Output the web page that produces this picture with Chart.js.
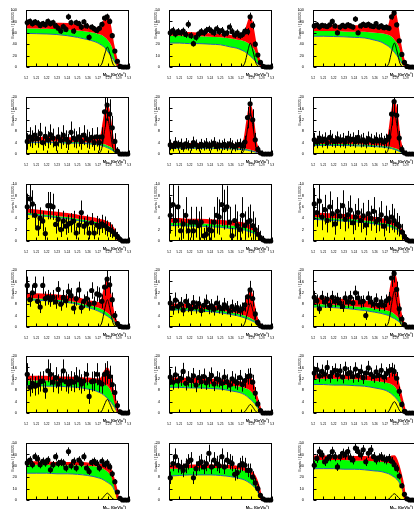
<!DOCTYPE html>
<html>
<head>
<meta charset="utf-8">
<script src="https://cdn.jsdelivr.net/npm/chart.js@4.4.1/dist/chart.umd.min.js"></script>
<style>
html, body { margin: 0; padding: 0; background: #fff; }
#page { position: relative; width: 414px; height: 509px; overflow: hidden; }
#page canvas { position: absolute; }
</style>
</head>
<body>
<div id="page"></div>
<script>
'use strict';

// centres of the 40 Mbc bins (0.0025 GeV/c2 wide)
const BIN_X = [5.20125, 5.20375, 5.20625, 5.20875, 5.21125, 5.21375, 5.21625, 5.21875, 5.22125, 5.22375,
    5.22625, 5.22875, 5.23125, 5.23375, 5.23625, 5.23875, 5.24125, 5.24375, 5.24625, 5.24875,
    5.25125, 5.25375, 5.25625, 5.25875, 5.26125, 5.26375, 5.26625, 5.26875, 5.27125, 5.27375,
    5.27625, 5.27875, 5.28125, 5.28375, 5.28625, 5.28875, 5.29125, 5.29375, 5.29625, 5.29875];

const CURVE_X = [5.200, 5.210, 5.220, 5.230, 5.240, 5.250, 5.260, 5.266, 5.270, 5.2735,
    5.2765, 5.279, 5.2815, 5.2845, 5.2875, 5.289, 5.290, 5.295, 5.300];

const X_TICKS = [5.2, 5.21, 5.22, 5.23, 5.24, 5.25, 5.26, 5.27, 5.28, 5.29, 5.3];

// y axis range of each panel (left to right, top to bottom)
const Y_MAX = [100, 50, 100, 20, 20, 20, 10, 10, 10, 20, 20, 20, 20, 20, 20, 50, 20, 50];
const Y_STEP = [20, 10, 20, 4, 4, 4, 2, 2, 2, 4, 4, 4, 4, 4, 4, 10, 4, 10];

// ---- row 1 ----
const P1_PTS = [78,80,76,79,77,73,76,74,80,76,78,72,68,63,71,66,88,78,63,78,76,70,79,72,52,70,67,64,68,75,86,88,80,55,28,10,1,0,0,0];
const P1_ERR = [5,5,5,5,5,5,5,5,5,5,5,5,5,5,5,5,5.5,5,5,5,5,5,5,5,5,5,5,5,5,5,5.5,5.5,5,4.5,3.5,2,0.5,0,0,0];
const P1_CONT = [59,58.5,58,57,55,52,48,45,42,38,34,28,22,14,5,0,0,0,0];
const P1_BB = [68,67.5,67,66.5,66,64,62,60,58,56,52,48,42,30,12,4,0,0,0];
const P1_FIT = [77,76.5,76,75.5,75,73,70,68,66.4,68,82,89,71,39,14.4,5,0,0,0];
const P1_SIG = [0,0,0,0,0,0,0,0,0.4,5,23,35,23,5,0.4,0,0,0,0];

const P2_PTS = [30,32,29,31,30,31.5,28.5,37.5,27.5,20.5,26,29,31,30,32,33,31.5,30,33.5,31,32,29,30,35,31,28,30,27.5,28.5,31.5,31,44,36.5,20,10.5,4,0.5,0,0,0];
const P2_ERR = [3,3.2,3,3.1,3,3.1,3,3.4,2.9,2.6,2.9,3,3.1,3,3.2,3.2,3.1,3,3.2,3.1,3.1,3,3,3.3,3.1,2.9,3,2.9,2.9,3.1,3.1,3.7,3.4,2.5,1.8,1.1,0.4,0,0,0];
const P2_CONT = [21,21,20.5,20.5,20,19.5,17.5,16.5,15,13.5,11.5,9.5,7.5,4.5,1.5,0,0,0,0];
const P2_BB = [27.5,27.5,27.5,27,26.5,26,25,24,23.5,22.5,21,19.5,17,12,5,1.5,0,0,0];
const P2_FIT = [29.5,29.5,29.5,29,28.5,28,27,26,25.7,27.8,37,42.5,32.5,16.3,5.7,1.8,0,0,0];
const P2_SIG = [0,0,0,0,0,0,0,0,0.2,3.3,14,21,14,3.3,0.2,0,0,0,0];

const P3_PTS = [72,74,70,73,72,71,74,80,72,60,70,73,71,74,72,70,84,60,72,75,73,75,72,71,76,70,72,69,70,68,88,95,74,46,22,8,1,0,0,0];
const P3_ERR = [4.5,4.6,4.4,4.5,4.5,4.4,4.6,4.8,4.5,4.1,4.4,4.5,4.4,4.6,4.5,4.4,4.9,4.1,4.5,4.6,4.5,4.6,4.5,4.4,4.6,4.4,4.5,4.4,4.4,4.3,5,5.2,4.6,3.6,2.5,1.4,0.5,0,0,0];
const P3_CONT = [54,54,53.5,53,52,51,47,44,40,36,31,26,20,12,4,0,0,0,0];
const P3_BB = [63,63,63,62.5,62,62,60,59,58,56,53,48,42,30,12,3,0,0,0];
const P3_FIT = [72,72,72,71.5,71,71,69,68,67.4,70,89,97,76,40,14.4,4,0,0,0];
const P3_SIG = [0,0,0,0,0,0,0,0,0.4,6,28,42,28,6,0.4,0,0,0,0];

// ---- row 2 ----
const P4_PTS = [4.4,6,5.2,6.6,5.4,7.2,4,6.2,5,6.8,5.6,3.6,6,4.8,6.6,5.2,4.2,7.6,5.6,5,6,4.4,6.6,5.4,4.8,5.8,4,6,4,6,14.8,17.2,14,9.2,4.4,1,0,0,0,0];
const P4_ERR = [2.9,3.4,3.1,3.5,3.2,3.7,2.8,3.4,3,3.6,3.3,2.6,3.4,3,3.5,3.1,2.8,3.8,3.3,3,3.4,2.9,3.5,3.2,3,3.3,2.8,3.4,2.8,3.4,5.2,5.6,5.2,4.2,2.9,1.4,0,0,0,0];
const P4_CONT = [4,4,4,4,3.8,3.8,3.6,3.4,3.2,3,2.6,2.2,1.8,1.2,0.4,0,0,0,0];
const P4_BB = [4.4,4.4,4.4,4.4,4.2,4.2,4,3.8,3.8,3.6,3.4,3,2.6,1.8,0.8,0.2,0,0,0];
const P4_FIT = [5.6,5.6,5.6,5.6,5.4,5.4,5.2,5,5.15,6.7,13.1,16.8,12.1,4.3,1.25,0.3,0,0,0];
const P4_SIG = [0,0,0,0,0,0,0,0,0.15,1.9,8.6,12.8,8.6,1.9,0.15,0,0,0,0];

const P5_PTS = [3.2,2.6,3.8,3,3.4,2.4,3.6,3,2.8,4,3.2,2.6,3.4,3,3.6,2.8,3.2,3.8,2.6,3.2,3,3.4,2.8,3.6,3,2.6,3.2,3.4,2.8,4.2,12.8,17.6,12,5,1.6,0.4,0,0,0,0];
const P5_ERR = [1.9,1.7,2.1,1.8,2,1.6,2,1.8,1.7,2.1,1.9,1.7,1.9,1.8,2,1.7,1.9,2.1,1.7,1.9,1.8,2,1.7,2,1.8,1.7,1.9,2,1.7,2.2,3.8,4.4,3.7,2.4,1.3,0.7,0,0,0,0];
const P5_CONT = [2,2,2,2,2,1.9,1.8,1.7,1.6,1.5,1.3,1.1,0.9,0.6,0.2,0,0,0,0];
const P5_BB = [2.4,2.4,2.4,2.4,2.4,2.3,2.2,2.1,2,1.9,1.7,1.5,1.2,0.8,0.3,0.1,0,0,0];
const P5_FIT = [3.4,3.4,3.4,3.4,3.4,3.3,3.2,3.1,3.2,5.1,12.2,16.8,11.6,3.5,0.7,0.1,0,0,0];
const P5_SIG = [0,0,0,0,0,0,0,0,0.2,2.2,9.6,14.4,9.6,2.2,0.2,0,0,0,0];

const P6_PTS = [5,4.2,5.6,4.6,5.2,4,5.8,4.8,4.4,5.4,4.6,5,4.2,5.6,4.8,5.2,4.4,5.8,4.6,5,4.2,5.4,4.8,4.4,5.2,4.6,5,4.2,4.8,6,14,18.4,13.6,5.6,1.6,0.4,0,0,0,0];
const P6_ERR = [2.4,2.2,2.5,2.3,2.4,2.1,2.6,2.3,2.2,2.5,2.3,2.4,2.2,2.5,2.3,2.4,2.2,2.6,2.3,2.4,2.2,2.5,2.3,2.2,2.4,2.3,2.4,2.2,2.3,2.6,4,4.5,3.9,2.5,1.4,0.7,0,0,0,0];
const P6_CONT = [3,3,3,3,2.9,2.8,2.6,2.5,2.3,2.1,1.9,1.6,1.3,0.8,0.3,0,0,0,0];
const P6_BB = [3.5,3.5,3.5,3.5,3.4,3.3,3.1,3,2.8,2.6,2.4,2.1,1.8,1.2,0.5,0.1,0,0,0];
const P6_FIT = [4.9,4.9,4.9,4.9,4.8,4.7,4.5,4.4,4.35,6.2,13.6,18.3,12.9,4.3,1.05,0.2,0,0,0];
const P6_SIG = [0,0,0,0,0,0,0,0,0.15,2.3,10,15,10,2.3,0.15,0,0,0,0];

// ---- row 3 (no visible signal) ----
const P7_PTS = [6,7.4,6.5,4.5,2.3,4,3.5,1.3,6.2,6.2,6,2.9,3.8,2,3.5,2.6,3,3.2,3.5,1.4,2.8,5,2.6,3,1.4,3.2,1.4,2.8,2.5,3,2.7,2.2,2,1.7,1.2,0.8,0.3,0,0,0];
const P7_ERR = [2.3,2.6,2.4,2,1.4,1.9,1.8,1.1,2.4,2.4,2.3,1.6,1.8,1.3,1.8,1.5,1.6,1.7,1.8,1.1,1.6,2.1,1.5,1.6,1.1,1.7,1.1,1.6,1.5,1.6,1.6,1.4,1.3,1.2,1,0.8,0.5,0,0,0];
const P7_CONT = [4.7,4.5,4.3,4.1,3.9,3.6,3.3,3.1,2.9,2.8,2.6,2.4,2.2,1.7,0.8,0,0,0,0];
const P7_BB = [5,4.8,4.6,4.4,4.2,3.9,3.6,3.4,3.2,3.1,2.9,2.7,2.5,1.9,0.9,0.2,0,0,0];
const P7_FIT = [5.5,5.3,5.1,4.9,4.7,4.4,4.1,3.9,3.7,3.6,3.4,3.2,2.9,2.2,1.1,0.3,0,0,0];

const P8_PTS = [4.5,6.4,3.6,6,1.8,3,4.5,1.8,3.3,1.8,3.3,2.7,3.3,0.9,1.2,2,1.8,3.3,4.5,4.2,6.4,5.5,6,3.3,0.9,3.6,2.7,2,4.5,2.7,3.3,3.6,2.7,2,1.2,0.6,0.2,0,0,0];
const P8_ERR = [3.2,3.8,2.8,3.7,2,2.6,3.2,2,2.7,2,2.7,2.5,2.7,1.4,1.6,2.1,2,2.7,3.2,3.1,3.8,3.5,3.7,2.7,1.4,2.8,2.5,2.1,3.2,2.5,2.7,2.8,2.5,2.1,1.6,1.2,0.7,0,0,0];
const P8_CONT = [2.7,2.7,2.6,2.6,2.5,2.4,2.2,2.1,2,1.9,1.7,1.6,1.4,1.1,0.5,0,0,0,0];
const P8_BB = [3.2,3.2,3.1,3.1,3,2.9,2.7,2.6,2.5,2.4,2.2,2,1.8,1.4,0.7,0.2,0,0,0];
const P8_FIT = [3.8,3.8,3.7,3.7,3.6,3.5,3.3,3.2,3.1,3,2.8,2.6,2.3,1.8,0.9,0.3,0,0,0];

const P9_PTS = [6.5,5,7,4.2,5.5,3.6,6,4.8,3,5.2,4.4,6.2,3.8,4.6,5.4,3.2,4.2,5,3.6,4.4,2.8,4.8,4,5.2,3.4,3.8,4.6,2.6,4,3.4,4.2,3.6,3,2.6,1.6,0.8,0.2,0,0,0];
const P9_ERR = [2.8,2.5,2.9,2.3,2.6,2.1,2.7,2.4,1.9,2.5,2.3,2.7,2.1,2.4,2.6,2,2.3,2.5,2.1,2.3,1.8,2.4,2.2,2.5,2,2.1,2.4,1.8,2.2,2,2.3,2.1,1.9,1.8,1.4,1,0.5,0,0,0];
const P9_CONT = [3.8,3.7,3.6,3.5,3.4,3.2,3,2.8,2.7,2.6,2.4,2.2,2,1.5,0.7,0,0,0,0];
const P9_BB = [4.2,4.1,4,3.9,3.8,3.6,3.4,3.2,3.1,3,2.8,2.6,2.3,1.8,0.9,0.2,0,0,0];
const P9_FIT = [4.8,4.7,4.6,4.5,4.4,4.2,4,3.8,3.7,3.6,3.4,3.2,2.8,2.2,1.1,0.3,0,0,0];

// ---- row 4 ----
const P10_PTS = [14.6,9.6,12,14.6,9,7,14.6,10,10.4,9.6,10.4,8.8,13.2,8,10.4,9.2,12.4,11,6.6,10,13,6.8,9,10,8,12.8,8.4,11.6,11.2,9,14,16.8,14.8,9.6,4,1.2,0.2,0,0,0];
const P10_ERR = [3.1,2.5,2.8,3.1,2.4,2.1,3.1,2.5,2.6,2.5,2.6,2.4,2.9,2.3,2.6,2.4,2.8,2.7,2.1,2.5,2.9,2.1,2.4,2.5,2.3,2.9,2.3,2.7,2.7,2.4,3,3.3,3.1,2.5,1.6,0.9,0.4,0,0,0];
const P10_CONT = [9.6,9.4,9.2,9,8.6,8,6.8,6.2,5.6,5,4.4,3.8,3.2,2.2,0.8,0,0,0,0];
const P10_BB = [10.2,10,9.8,9.6,9.2,8.6,7.6,7.2,6.8,6.2,5.6,5,4.2,3,1.2,0.2,0,0,0];
const P10_FIT = [11.6,11.4,11.2,11,10.6,10,9,8.6,8.3,9,13.3,15.9,11.8,5.3,1.8,0.4,0,0,0];
const P10_SIG = [0,0,0,0,0,0,0,0,0.1,1.4,6.4,9.6,6.4,1.4,0.1,0,0,0,0];

const P11_PTS = [8.4,6.6,9.4,7.2,8,6,9,7.6,6.4,8.6,7,8.2,5.8,7.6,8.8,6.8,7.4,6.2,8.4,7,6.4,7.8,6.8,5.6,7.2,6.2,6.8,5.8,6.4,7.8,10.6,13,10,4.6,1.6,0.4,0,0,0,0];
const P11_ERR = [2.6,2.3,2.7,2.4,2.5,2.2,2.6,2.4,2.2,2.6,2.3,2.5,2.1,2.4,2.6,2.3,2.4,2.2,2.6,2.3,2.2,2.4,2.3,2.1,2.4,2.2,2.3,2.1,2.2,2.4,2.9,3.2,2.8,1.9,1.1,0.6,0,0,0,0];
const P11_CONT = [6,6,5.8,5.6,5.4,5,4.4,4,3.6,3.2,2.8,2.4,2,1.4,0.6,0,0,0,0];
const P11_BB = [6.8,6.8,6.6,6.4,6.2,5.8,5.2,4.8,4.4,4,3.6,3.2,2.6,1.8,0.8,0.2,0,0,0];
const P11_FIT = [7.8,7.8,7.6,7.4,7.2,6.8,6.2,5.8,5.5,6.3,10.1,12.5,9,3.7,1.2,0.3,0,0,0];
const P11_SIG = [0,0,0,0,0,0,0,0,0.08,1.3,5.6,8.4,5.6,1.3,0.08,0,0,0,0];

const P12_PTS = [10.4,9.2,6.4,10.4,8.8,9.8,7.6,10.4,9,9.8,8.4,7.2,10.2,8.8,10.4,8.4,12,10.2,8.8,9,4,10.2,8.8,8,9.6,7.6,8.8,7.6,9.2,10,17.2,18.8,13.2,6.4,2.8,0.8,0,0,0,0];
const P12_ERR = [2.3,2.2,1.8,2.3,2.1,2.2,2,2.3,2.1,2.2,2.1,1.9,2.3,2.1,2.3,2.1,2.5,2.3,2.1,2.1,1.5,2.3,2.1,2,2.2,2,2.1,2,2.2,2.3,3.1,3.2,2.7,1.9,1.3,0.7,0,0,0,0];
const P12_CONT = [7,7,6.8,6.6,6.2,5.8,5.2,4.8,4.4,4,3.4,3,2.4,1.6,0.6,0,0,0,0];
const P12_BB = [8,8,7.8,7.6,7.2,7,6.4,6.2,6,5.6,5.2,4.6,3.8,2.6,1,0.2,0,0,0];
const P12_FIT = [9.8,9.8,9.6,9.4,9,8.8,8.2,8,7.9,9.1,15.1,18.6,13.5,5.5,1.6,0.4,0,0,0];
const P12_SIG = [0,0,0,0,0,0,0,0,0.12,1.9,8.4,12.6,8.4,1.9,0.12,0,0,0,0];

// ---- row 5 ----
const P13_PTS = [13.6,9,10.4,9.4,9.8,11,11.2,8,14.8,13.6,10.8,12.4,10.2,11.4,14.8,11,10.2,11.2,10.8,12.4,11.6,10.2,11.2,13.6,5.8,11,11.2,13.6,10.8,10.2,13.6,14.2,12.8,10,7.2,2.6,0.4,0,0,0];
const P13_ERR = [3.9,3.2,3.4,3.3,3.3,3.5,3.5,3,4,3.9,3.5,3.7,3.4,3.6,4,3.5,3.4,3.5,3.5,3.7,3.6,3.4,3.5,3.9,2.6,3.5,3.5,3.9,3.5,3.4,3.9,4,3.8,3.4,2.9,1.7,0.7,0,0,0];
const P13_CONT = [9.6,9.6,9.4,9.4,9.2,9,8.4,8,7.4,6.8,6,5.2,4.2,2.8,1,0,0,0,0];
const P13_BB = [11.4,11.4,11.4,11.2,11.2,11,10.8,10.6,10.4,10.2,10,9.6,8.4,6,2.4,0.6,0,0,0];
const P13_FIT = [12.6,12.6,12.6,12.4,12.4,12.2,12,11.8,11.7,12.1,14.4,15.6,12.7,7.6,3,0.8,0,0,0];
const P13_SIG = [0,0,0,0,0,0,0,0,0.05,0.7,3.2,4.8,3.2,0.7,0.05,0,0,0,0];

const P14_PTS = [12.6,10.8,13.4,11.2,12.2,14.6,10.4,12,11.4,13,9.8,12.4,11,12.8,10.6,11.8,13.2,10.2,12,11.6,10.4,12.6,11,9.8,12,11.2,10.6,12.4,10,11.4,12.8,13,10.8,7,3.2,0.8,0,0,0,0];
const P14_ERR = [2.8,2.6,2.9,2.6,2.7,3,2.5,2.7,2.6,2.8,2.5,2.7,2.6,2.8,2.5,2.7,2.8,2.5,2.7,2.6,2.5,2.8,2.6,2.5,2.7,2.6,2.5,2.7,2.5,2.6,2.8,2.8,2.6,2.1,1.4,0.7,0,0,0,0];
const P14_CONT = [9,9,8.8,8.8,8.6,8.4,7.8,7.4,7,6.4,5.6,4.8,4,2.6,1,0,0,0,0];
const P14_BB = [10.6,10.6,10.4,10.4,10.2,10,9.6,9.4,9.2,8.8,8.4,7.8,6.8,4.8,2,0.6,0,0,0];
const P14_FIT = [12,12,11.8,11.8,11.6,11.4,11,10.8,10.6,10.7,11.7,12.1,10,6.2,2.5,0.8,0,0,0];
const P14_SIG = [0,0,0,0,0,0,0,0,0.03,0.45,2,3,2,0.45,0.03,0,0,0,0];

const P15_PTS = [14,15.2,13,14.6,13.6,16,12.8,14.2,15,13.4,14.8,12.6,15.6,13.8,14.2,12.8,15.4,13.2,14.6,12.4,14,15.8,13.6,12.8,14.4,13.2,15,12.6,13.8,14.8,15.2,14.6,12.2,7.6,3,0.6,0,0,0,0];
const P15_ERR = [2.3,2.4,2.2,2.4,2.3,2.5,2.2,2.3,2.4,2.3,2.4,2.2,2.4,2.3,2.3,2.2,2.4,2.3,2.4,2.2,2.3,2.5,2.3,2.2,2.3,2.3,2.4,2.2,2.3,2.4,2.4,2.4,2.2,1.7,1.1,0.5,0,0,0,0];
const P15_CONT = [10,10,9.8,9.8,9.6,9.4,8.8,8.4,8,7.4,6.6,5.8,4.8,3.2,1.2,0,0,0,0];
const P15_BB = [12,12,12,11.8,11.8,11.6,11.2,11,10.8,10.4,10,9.4,8.2,5.8,2.4,0.6,0,0,0];
const P15_FIT = [13.2,13.2,13.2,13,13,12.8,12.4,12.2,12,12.2,13.9,14.6,12,7.3,2.9,0.8,0,0,0];
const P15_SIG = [0,0,0,0,0,0,0,0,0.04,0.6,2.7,4,2.7,0.6,0.04,0,0,0,0];

// ---- row 6 ----
const P16_PTS = [32.5,35,31,38,36,31,34,32.5,35,26.5,31,38,32,33,32.5,28,42.5,30,34,28,35,32,38,28,25,33,34,32,28,34,31,32.5,29,23,16,7,1.5,0,0,0];
const P16_ERR = [3.3,3.4,3.2,3.5,3.4,3.2,3.3,3.3,3.4,3,3.2,3.5,3.2,3.3,3.3,3.1,3.7,3.2,3.3,3.1,3.4,3.2,3.5,3.1,3,3.3,3.3,3.2,3.1,3.3,3.2,3.3,3.1,2.8,2.3,1.5,0.7,0,0,0];
const P16_CONT = [23.5,23.5,23.5,23,23,22.5,21.5,20.5,19.5,18.5,17,15.5,14,11,5,1,0,0,0];
const P16_BB = [31,31,31,30.5,30.5,30.5,30,29.5,29,28,26.5,25,22.5,17.5,8.5,2,0,0,0];
const P16_FIT = [32.8,32.8,32.8,32.3,32.3,32.3,31.8,31.3,30.9,30.7,32.2,32.6,28,19.6,9.2,2.4,0,0,0];
const P16_SIG = [0,0,0,0,0,0,0,0,0.06,0.9,4,6,4,0.9,0.06,0,0,0,0];

const P17_PTS = [7.8,12.8,15.2,12.2,11.6,10.4,12,13.4,14,7.8,11,12.8,13.4,11.6,12.8,16.4,11.6,14,12.8,12,15.2,11.6,14,13.4,12.8,9,9.6,12.2,12.8,12.2,10.4,10.4,8,6,4,1.6,0.4,0,0,0];
const P17_ERR = [2.2,2.7,2.9,2.6,2.5,2.4,2.6,2.7,2.8,2.2,2.5,2.7,2.7,2.5,2.7,3,2.5,2.8,2.7,2.6,2.9,2.5,2.8,2.7,2.7,2.2,2.3,2.6,2.7,2.6,2.4,2.4,2.1,1.8,1.5,0.9,0.4,0,0,0];
const P17_CONT = [8.4,8.6,8.8,8.8,8.8,8.6,8.2,7.8,7.4,7,6.4,5.8,5,3.8,1.8,0.4,0,0,0];
const P17_BB = [11,11,11.2,11.2,11.2,11.2,11,10.8,10.6,10.2,9.8,9.2,8.4,6.6,3.4,0.8,0,0,0];
const P17_FIT = [11.8,11.8,12,12,12,12,11.8,11.6,11.4,11,10.6,10,9.2,7.2,3.8,1,0,0,0];

const P18_PTS = [30.5,36.5,42.5,39.5,33.5,36,38,42.5,38,29,38,41,39.5,42.5,37,35,45.5,42.5,39.5,44,33.5,41,44,38,35,37,38,36,35,36.5,34,31,27.5,21,12.5,5,1,0,0,0];
const P18_ERR = [3.6,3.9,4.2,4,3.7,3.8,4,4.2,4,3.5,4,4.1,4,4.2,3.9,3.8,4.3,4.2,4,4.2,3.7,4.1,4.2,4,3.8,3.9,4,3.9,3.8,3.9,3.8,3.6,3.4,3,2.3,1.4,0.6,0,0,0];
const P18_CONT = [27.5,27.5,27.5,27,27,26.5,25.5,25,24,23,21.5,20,18,14,7,1.5,0,0,0];
const P18_BB = [35,35,35,35,34.5,34.5,34,33.5,33,32.5,31.5,30,27.5,22,11.5,2.5,0,0,0];
const P18_FIT = [38,38,38,38,37.5,37.5,37,36.5,36,36.3,38,38.1,33.6,24.6,12.5,3,0,0,0];
const P18_SIG = [0,0,0,0,0,0,0,0,0.05,0.8,3.7,5.5,3.7,0.8,0.05,0,0,0,0];

const PANELS = [
    { pts: P1_PTS, err: P1_ERR, cont: P1_CONT, bb: P1_BB, fit: P1_FIT, sig: P1_SIG },
    { pts: P2_PTS, err: P2_ERR, cont: P2_CONT, bb: P2_BB, fit: P2_FIT, sig: P2_SIG },
    { pts: P3_PTS, err: P3_ERR, cont: P3_CONT, bb: P3_BB, fit: P3_FIT, sig: P3_SIG },
    { pts: P4_PTS, err: P4_ERR, cont: P4_CONT, bb: P4_BB, fit: P4_FIT, sig: P4_SIG },
    { pts: P5_PTS, err: P5_ERR, cont: P5_CONT, bb: P5_BB, fit: P5_FIT, sig: P5_SIG },
    { pts: P6_PTS, err: P6_ERR, cont: P6_CONT, bb: P6_BB, fit: P6_FIT, sig: P6_SIG },
    { pts: P7_PTS, err: P7_ERR, cont: P7_CONT, bb: P7_BB, fit: P7_FIT, sig: null },
    { pts: P8_PTS, err: P8_ERR, cont: P8_CONT, bb: P8_BB, fit: P8_FIT, sig: null },
    { pts: P9_PTS, err: P9_ERR, cont: P9_CONT, bb: P9_BB, fit: P9_FIT, sig: null },
    { pts: P10_PTS, err: P10_ERR, cont: P10_CONT, bb: P10_BB, fit: P10_FIT, sig: P10_SIG },
    { pts: P11_PTS, err: P11_ERR, cont: P11_CONT, bb: P11_BB, fit: P11_FIT, sig: P11_SIG },
    { pts: P12_PTS, err: P12_ERR, cont: P12_CONT, bb: P12_BB, fit: P12_FIT, sig: P12_SIG },
    { pts: P13_PTS, err: P13_ERR, cont: P13_CONT, bb: P13_BB, fit: P13_FIT, sig: P13_SIG },
    { pts: P14_PTS, err: P14_ERR, cont: P14_CONT, bb: P14_BB, fit: P14_FIT, sig: P14_SIG },
    { pts: P15_PTS, err: P15_ERR, cont: P15_CONT, bb: P15_BB, fit: P15_FIT, sig: P15_SIG },
    { pts: P16_PTS, err: P16_ERR, cont: P16_CONT, bb: P16_BB, fit: P16_FIT, sig: P16_SIG },
    { pts: P17_PTS, err: P17_ERR, cont: P17_CONT, bb: P17_BB, fit: P17_FIT, sig: null },
    { pts: P18_PTS, err: P18_ERR, cont: P18_CONT, bb: P18_BB, fit: P18_FIT, sig: P18_SIG },
];

// page layout (frame = plotting area of one panel)
const COL_LEFT = [26, 169, 313];
const ROW_TOP = [10, 97, 184, 270, 356, 443];
const FRAME_W = 103;
const FRAME_H = 57;
const AXIS_Y_W = 15;
const AXIS_X_H = 14;
const PAD_TOP = 4;
const PAD_RIGHT = 6;

const FONT = '"Liberation Sans", Arial, sans-serif';
Chart.defaults.font.family = FONT;

function toXY(xs, ys) {
    return xs.map((x, i) => ({ x: x, y: ys[i] }));
}

// vertical error bars on the data points
const errorBars = {
    id: 'errorBars',
    beforeDatasetDraw(chart, args) {
        const ds = chart.data.datasets[args.index];
        if (!ds.errors) return;
        const { ctx, chartArea: a, scales: { x, y } } = chart;
        ctx.save();
        ctx.beginPath();
        ctx.rect(a.left, a.top, a.right - a.left, a.bottom - a.top);
        ctx.clip();
        ctx.strokeStyle = '#000';
        ctx.lineWidth = 1;
        ds.data.forEach((p, i) => {
            const e = ds.errors[i];
            if (!e) return;
            const px = Math.round(x.getPixelForValue(p.x)) + 0.5;
            ctx.beginPath();
            ctx.moveTo(px, y.getPixelForValue(p.y - e));
            ctx.lineTo(px, y.getPixelForValue(p.y + e));
            ctx.stroke();
        });
        ctx.restore();
    }
};

// frame, inner ticks and the Mbc axis title
const rootFrame = {
    id: 'rootFrame',
    afterDraw(chart) {
        const { ctx, chartArea: a, scales: { x, y } } = chart;
        ctx.save();
        ctx.strokeStyle = '#000';
        ctx.lineWidth = 1;
        const l = Math.round(a.left) + 0.5, r = Math.round(a.right) - 0.5;
        const t = Math.round(a.top) + 0.5, b = Math.round(a.bottom) - 0.5;
        ctx.strokeRect(l, t, r - l, b - t);
        ctx.beginPath();
        x.ticks.forEach(tk => {
            const px = Math.round(x.getPixelForValue(tk.value)) + 0.5;
            ctx.moveTo(px, b); ctx.lineTo(px, b - 3);
        });
        y.ticks.forEach(tk => {
            const py = Math.round(y.getPixelForValue(tk.value)) + 0.5;
            ctx.moveTo(l, py); ctx.lineTo(l + 3, py);
        });
        ctx.stroke();

        const big = 'bold 4px ' + FONT, small = 'bold 3px ' + FONT;
        const unit = ' (GeV/c\u00B2)';
        ctx.fillStyle = '#000';
        ctx.font = big;
        const wM = ctx.measureText('M').width, wU = ctx.measureText(unit).width;
        ctx.font = small;
        const wS = ctx.measureText('bc').width;
        let tx = a.right - 3 - (wM + wS + wU);
        const ty = a.bottom + 9;
        ctx.font = big; ctx.fillText('M', tx, ty); tx += wM;
        ctx.font = small; ctx.fillText('bc', tx, ty + 1); tx += wS;
        ctx.font = big; ctx.fillText(unit, tx, ty);
        ctx.restore();
    }
};

const page = document.getElementById('page');

PANELS.forEach((p, n) => {
    const col = n % 3, row = Math.floor(n / 3);
    const canvas = document.createElement('canvas');
    const w = AXIS_Y_W + FRAME_W + PAD_RIGHT;
    const h = PAD_TOP + FRAME_H + AXIS_X_H;
    canvas.width = w;
    canvas.height = h;
    canvas.style.width = w + 'px';
    canvas.style.height = h + 'px';
    canvas.style.left = (COL_LEFT[col] - AXIS_Y_W) + 'px';
    canvas.style.top = (ROW_TOP[row] - PAD_TOP) + 'px';
    page.appendChild(canvas);

    const curve = { pointRadius: 0, cubicInterpolationMode: 'monotone', clip: 0 };
    const datasets = [
        Object.assign({ label: 'continuum', data: toXY(CURVE_X, p.cont), fill: 'origin',
            backgroundColor: '#ffff00', borderColor: '#2060b0', borderWidth: 1, order: 5 }, curve),
        Object.assign({ label: 'BB background', data: toXY(CURVE_X, p.bb), fill: '-1',
            backgroundColor: '#00ff00', borderColor: '#00ff00', borderWidth: 0, order: 6 }, curve),
        Object.assign({ label: 'total fit', data: toXY(CURVE_X, p.fit), fill: '-1',
            backgroundColor: '#ff0000', borderColor: '#ff0000', borderWidth: 2.5, order: 4 }, curve),
    ];
    if (p.sig) {
        datasets.push(Object.assign({ label: 'signal', data: toXY(CURVE_X, p.sig), fill: false,
            borderColor: '#000', borderWidth: 1, order: 2 }, curve));
    }
    datasets.push({
        label: 'data', data: toXY(BIN_X, p.pts), errors: p.err, showLine: false,
        pointRadius: 2.6, pointBackgroundColor: '#000', pointBorderColor: '#000', pointBorderWidth: 0,
        order: 1, clip: 3
    });

    new Chart(canvas, {
        type: 'line',
        data: { datasets: datasets },
        options: {
            responsive: false,
            animation: false,
            devicePixelRatio: 1,
            layout: { padding: { top: PAD_TOP, right: PAD_RIGHT, left: 0, bottom: 0 } },
            plugins: { legend: { display: false }, tooltip: { enabled: false } },
            scales: {
                x: {
                    type: 'linear', min: 5.2, max: 5.3,
                    afterBuildTicks: s => { s.ticks = X_TICKS.map(v => ({ value: v })); },
                    ticks: {
                        autoSkip: false, maxRotation: 0, padding: 1, color: '#000',
                        font: { size: 3 },
                        callback: v => String(Number(v.toFixed(2)))
                    },
                    grid: { display: false },
                    border: { display: false },
                    afterFit: s => { s.height = AXIS_X_H; }
                },
                y: {
                    min: 0, max: Y_MAX[n],
                    ticks: { stepSize: Y_STEP[n], padding: 1, color: '#000', font: { size: 4 } },
                    grid: { display: false },
                    border: { display: false },
                    title: {
                        display: true, text: 'Events / ( 0.0025 )', align: 'end',
                        color: '#000', font: { size: 3.5 }, padding: 0
                    },
                    afterFit: s => { s.width = AXIS_Y_W; }
                }
            }
        },
        plugins: [errorBars, rootFrame]
    });
});
</script>
